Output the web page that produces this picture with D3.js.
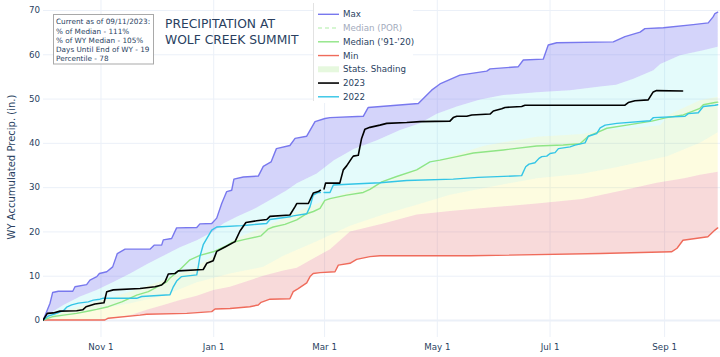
<!DOCTYPE html>
<html><head><meta charset="utf-8">
<script src="https://cdn.jsdelivr.net/npm/d3@7"></script>
<style>body{margin:0;background:#fff}svg{display:block}text{font-family:"DejaVu Sans",Verdana,sans-serif}</style>
</head><body><svg id="c" width="720" height="357"></svg>
<script>
// ---- data (day of water year, inches) ----
const xTickDates = ["2019-11-01","2020-01-01","2020-03-01","2020-05-01","2020-07-01","2020-09-01"];
const yTicks = [0,10,20,30,40,50,60,70];
const legendLabels = ["Max","Median (POR)","Median ('91-'20)","Min","Stats. Shading","2023","2022"];
const titleLines = ["PRECIPITATION AT","WOLF CREEK SUMMIT"];
const infoLines = ["Current as of 09/11/2023:","% of Median - 111%","% of WY Median - 105%","Days Until End of WY - 19","Percentile - 78"];
const yTitle = "WY Accumulated Precip. (in.)";

const maxSeries = [[0,0],[3.7,3.8],[5.1,6.2],[8.2,6.5],[16,6.5],[17.2,7.5],[23.5,8.0],[25.3,9.0],[29,9.8],[30.4,10.5],[34.4,10.9],[37.6,12.0],[40.1,15.0],[44.3,16.0],[57.8,16.0],[60,16.9],[64.1,16.9],[65,18.1],[69.5,18.4],[72.2,20.8],[83.1,20.9],[84.8,21.7],[91.2,21.8],[93.9,23.0],[96.6,26.3],[99.3,29.0],[102,29.3],[103.2,31.8],[108.3,32.3],[116.4,32.5],[119.1,34.7],[123.3,35.7],[126.2,38.7],[133.5,39.4],[136.3,41.0],[142.6,41.5],[147.1,44.8],[152.5,45.5],[155.2,45.7],[173.2,46.0],[175.9,48.0],[203,48.9],[210.2,51.9],[214.7,53.3],[225.5,55.3],[240,56.2],[241.8,56.7],[257.1,57.2],[259.8,58.7],[270.6,58.9],[273.3,62.1],[277.9,62.6],[308.5,62.8],[314.8,64.0],[323,65.0],[325.6,65.8],[335.6,66.0],[351.8,66.7],[359.9,67.1],[362.6,68.5],[363.5,69.2],[365,69.5]];
const p90Series = [[0,0],[3.7,1.5],[10.9,3.4],[19.9,5.3],[28.9,6.8],[37.9,8.6],[47,10.5],[56,12.6],[65,14.5],[74,16.4],[83.1,18.0],[92,20.0],[97.5,21.8],[104.7,23.3],[113.7,25.0],[122.7,27.1],[131.8,29.3],[137.2,30.9],[148,33.1],[157.3,36.1],[168,38.6],[180.6,40.6],[193.1,42.9],[203.9,44.4],[213,46.6],[223.8,48.2],[236.4,49.8],[249,50.8],[267,51.4],[285.1,51.9],[301.4,52.7],[310,53.1],[319.4,54.5],[330.2,56.4],[333.9,57.8],[344.6,59.8],[357.2,60.9],[365,61.7]];
const p70Series = [[0,0],[10.9,1.9],[28.9,4.1],[47,6.4],[65,9.0],[83.1,12.0],[92,14.5],[104.7,18.5],[122.7,21.5],[140.7,25.0],[155.2,27.5],[166,29.0],[184,30.9],[202.1,33.9],[220.1,36.9],[238.1,39.3],[247.2,40.0],[267,41.4],[291.6,42.0],[301.4,42.8],[317.6,43.3],[333.8,44.0],[339.2,46.5],[355.4,49.6],[365,50.4]];
const p30Series = [[0,0],[10.9,0.8],[28.9,2.3],[47,3.8],[65,5.5],[83.1,8.5],[101,10.5],[119.1,12.0],[129.9,14.5],[148,17.8],[166,21.3],[184,23.8],[202.1,26.0],[220.1,28.3],[247.2,30.5],[267,32.0],[291.6,33.0],[310,34.5],[337.6,37.0],[355.4,40.0],[365,42.4]];
const p10Series = [[0,0],[30.8,0],[34.4,0.4],[47,1.1],[56,2.3],[65,3.4],[74,4.5],[83.1,5.5],[92,6.8],[101,7.5],[119.1,10.0],[129.9,11.2],[137.2,11.8],[144.4,13.5],[155.2,16.0],[166,20.0],[184,21.8],[202.1,23.8],[220.1,24.6],[238.1,25.3],[267,26.3],[291.6,27.3],[313.8,29.3],[332,31.0],[346.8,32.0],[355.4,32.8],[365,33.5]];
const minSeries = [[0,0],[33.4,0],[35.2,0.4],[52.4,1.1],[56,1.3],[77.7,1.5],[91.2,1.9],[93,2.5],[101.1,2.6],[111.8,3.0],[116.4,3.4],[117.9,4.0],[122.7,4.7],[133.5,4.8],[135.3,6.4],[138,7.1],[142.6,8.4],[144.4,9.8],[146.1,10.5],[149.8,10.7],[157.9,10.9],[159.7,12.4],[166,12.8],[169.6,13.7],[176.8,14.3],[182.3,14.5],[230.9,14.5],[301.4,15.0],[340,15.4],[343,16.2],[346.2,18.0],[359.7,18.8],[363.5,20.3],[365,20.8]];
const medianSeries = [[0,0],[5.5,0.8],[10.9,1.1],[18.1,1.5],[25.3,2.1],[28.9,2.4],[35.2,3.0],[42.5,4.1],[50.6,5.6],[56.9,6.4],[66.8,8.6],[68.6,9.5],[73.1,11.0],[79.4,13.6],[84.8,14.6],[92,15.4],[98.4,16.6],[102,17.5],[109.2,18.2],[117.9,19.0],[121.6,20.5],[124.5,21.0],[130.8,21.6],[137.2,22.6],[142.6,24.0],[146.2,24.5],[149.8,25.2],[152.4,27.0],[155.2,27.4],[164.2,28.2],[173.2,28.8],[176.8,29.5],[183.2,31.2],[191.3,32.4],[202.1,33.9],[209.3,35.7],[214.7,36.1],[223.8,36.9],[232.8,37.7],[249,38.4],[267,39.3],[281.4,39.5],[290.5,39.8],[295,41.5],[299.7,42.3],[305,43.3],[315.8,44.0],[329.3,44.9],[337.4,45.7],[346.4,46.3],[355.4,47.8],[357.2,48.6],[363.5,49.1],[365,49.2]];
const wy2023 = [[0,0],[2.2,1.5],[5.5,1.6],[9.1,2.0],[18.1,2.1],[21.4,2.3],[23.2,3.0],[28,3.6],[32.9,3.9],[34.4,6.4],[37.9,6.8],[52.4,7.1],[60.5,7.5],[64.1,7.9],[65.9,8.6],[67.7,10.4],[71.3,10.5],[73.1,11.1],[86.6,11.4],[88.5,12.8],[92,13.4],[93.9,15.5],[98.4,16.5],[103.8,17.7],[106.5,20.1],[109.7,22.0],[115.5,22.4],[121,22.7],[122.7,23.4],[133.5,23.7],[136.3,25.6],[137.2,26.3],[143.5,26.3],[146.2,28.7],[148.9,29.0],[150,29.3],[151,null],[152,29.6],[152.8,30.9],[160.5,30.9],[162.4,33.9],[164.2,34.8],[166.9,36.5],[167.8,37.0],[170.5,37.2],[172.3,41.0],[174.1,43.1],[176.8,43.5],[182.2,44.0],[185.9,44.4],[196.7,44.6],[203.9,44.8],[220.1,44.9],[221.9,45.7],[223.8,46.0],[229.2,46.0],[231.9,46.3],[241.8,46.5],[243.6,47.2],[248.1,47.7],[249.9,48.0],[258.9,48.2],[260.7,48.5],[314.8,48.5],[316.6,49.1],[320.2,49.5],[327.4,49.7],[330.1,51.5],[331.9,51.8],[346,51.7]];
const wy2022 = [[0,0],[2.8,0.9],[7.3,1.5],[10.9,2.1],[12.7,2.9],[15.4,3.4],[19,3.8],[24.4,4.1],[27.1,4.5],[30.7,4.7],[32.2,4.9],[50.6,4.9],[53.3,5.3],[68.6,5.7],[70.4,7.5],[72.2,8.8],[74.9,9.8],[83.1,10.2],[83.9,12.0],[84.8,14.3],[86.6,17.0],[91.2,20.3],[93.9,21.0],[107.4,21.3],[110.1,21.4],[120.9,21.8],[122.7,22.7],[133.5,23.3],[135.3,23.5],[142.6,24.0],[144.4,25.6],[146.1,28.2],[148.9,28.8],[150,28.8],[151,null],[152,28.8],[155.2,28.8],[157,30.5],[167.8,30.7],[182.3,31.0],[196.7,31.5],[221.9,31.8],[235.3,32.2],[258.9,32.6],[261.1,34.6],[262.9,35.2],[266.1,35.5],[268.3,36.5],[269.8,36.9],[272.5,37.0],[274.3,37.6],[277,37.8],[278.8,38.7],[285.1,39.1],[287.8,39.5],[293.2,40.0],[295,41.5],[299.5,42.1],[301.4,43.4],[304.1,44.0],[310.4,44.4],[328.4,45.0],[330.2,45.7],[347.3,46.0],[349.1,46.6],[354.5,46.8],[357.2,48.2],[363.5,48.5],[365,48.6]];

// ---- chart ----
const svg = d3.select("#c");
const start = Date.UTC(2019,9,1);
const toDate = d => new Date(start + d*864e5);
const x = d3.scaleUtc().domain([new Date(start), new Date(Date.UTC(2020,8,30))]).range([43.2, 717.7]);
const y = d3.scaleLinear().domain([0,70]).range([320,10]);
const plotL = 43, plotR = 720, plotT = 0, plotB = 337;
const ink = "#2a3f5f";
const grid = "#ebf0f8";

svg.append("defs").append("clipPath").attr("id","clip")
  .append("rect").attr("x",plotL).attr("y",plotT).attr("width",plotR-plotL).attr("height",plotB-plotT);

const xDates = xTickDates.map(s => new Date(s+"T00:00:00Z"));
const gx = svg.append("g").attr("transform",`translate(0,${plotB})`)
  .call(d3.axisBottom(x).tickValues(xDates).tickSize(-(plotB-plotT)).tickFormat(d3.utcFormat("%b %-d")));
gx.select(".domain").remove();
gx.selectAll("line").attr("stroke",grid).attr("stroke-width",1);
gx.selectAll("text").attr("fill",ink).attr("font-size",8.7).attr("y",6.5).attr("dy","0.71em")
  .attr("font-family",'"DejaVu Sans",Verdana,sans-serif');

const gy = svg.append("g").attr("transform",`translate(${plotL},0)`)
  .call(d3.axisLeft(y).tickValues(yTicks).tickSize(-(plotR-plotL)).tickFormat(d3.format("d")));
gy.select(".domain").remove();
gy.selectAll("line").attr("stroke",grid).attr("stroke-width",d => d===0?2:1);
gy.selectAll("text").attr("fill",ink).attr("font-size",8.7).attr("x",-3)
  .attr("font-family",'"DejaVu Sans",Verdana,sans-serif');

const plot = svg.append("g").attr("clip-path","url(#clip)");

const line = d3.line().defined(d => d[1] !== null).x(d => x(toDate(d[0]))).y(d => y(d[1]));
function band(upper, lower, fill){
  const pts = upper.concat(lower.slice().reverse());
  plot.append("path").attr("d", line(pts) + "Z").attr("fill", fill).attr("stroke","none");
}
band(maxSeries, p90Series, "rgba(112,112,238,0.30)");
band(p90Series, p70Series, "rgba(62,228,228,0.14)");
band(p70Series, p30Series, "rgba(128,222,75,0.14)");
band(p30Series, p10Series, "rgba(242,235,48,0.15)");
band(p10Series, minSeries, "rgba(227,99,99,0.24)");

function drawLine(data, color, w){
  plot.append("path").attr("d", line(data)).attr("fill","none").attr("stroke",color)
    .attr("stroke-width",w).attr("stroke-linejoin","round").attr("stroke-linecap","round");
}
drawLine(maxSeries, "#7878ee", 1.4);
drawLine(minSeries, "#ef6b5b", 1.4);
drawLine(medianSeries, "#8fe585", 1.4);
drawLine(wy2022, "#33c5e6", 1.4);
drawLine(wy2023, "#000000", 1.6);

svg.append("text").attr("transform","translate(15,167) rotate(-90)").attr("text-anchor","middle")
  .attr("fill",ink).attr("font-size",10).text(yTitle);

svg.append("rect").attr("x",53.5).attr("y",14.5).attr("width",100).attr("height",49.5)
  .attr("fill","#fff").attr("stroke","#a9a9a9").attr("stroke-width",1);
svg.append("g").selectAll("text").data(infoLines).join("text")
  .attr("x",56).attr("y",(d,i)=>24.2+i*9.3).attr("font-size",7.3).attr("fill",ink).text(d=>d);

svg.append("g").selectAll("text").data(titleLines).join("text")
  .attr("x",165).attr("y",(d,i)=>27.8+i*15.9).attr("font-size",12.3).attr("fill",ink).text(d=>d);

const lg = svg.append("g");
lg.append("rect").attr("x",313).attr("y",0).attr("width",100).attr("height",103).attr("fill","#fff");
lg.append("line").attr("x1",313.5).attr("x2",313.5).attr("y1",3).attr("y2",101).attr("stroke","#e2e2e2");
const legStyles = [
  {c:"#7878ee"},{c:"#c9f3c4",dash:"4,3",faded:true},{c:"#8fe585"},{c:"#ef6b5b"},{c:"#e6f8de",box:true},{c:"#000"},{c:"#33c5e6"}
];
legendLabels.forEach((lab,i)=>{
  const cy = 14.3 + i*13.75, s = legStyles[i];
  if (s.box) {
    lg.append("rect").attr("x",318).attr("y",cy-3).attr("width",21).attr("height",6).attr("fill",s.c);
  } else {
    lg.append("line").attr("x1",318).attr("x2",339).attr("y1",cy).attr("y2",cy)
      .attr("stroke",s.c).attr("stroke-width",i===5?1.6:1.4).attr("stroke-dasharray",s.dash||null);
  }
  lg.append("text").attr("x",343).attr("y",cy+3.1).attr("font-size",8.7)
    .attr("fill", s.faded ? "#a3abbd" : ink).text(lab);
});
</script></body></html>
